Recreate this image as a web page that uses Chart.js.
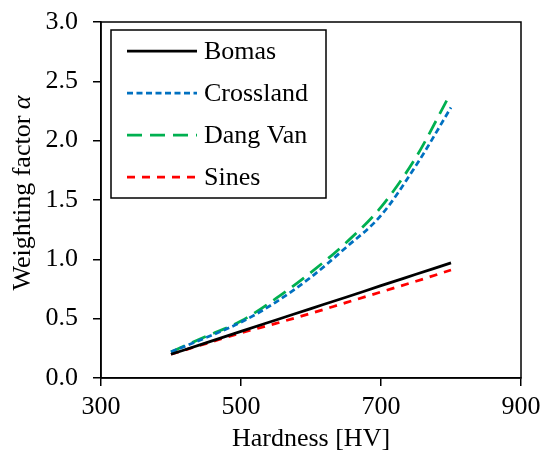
<!DOCTYPE html>
<html>
<head>
<meta charset="utf-8">
<script src="https://cdn.jsdelivr.net/npm/chart.js@4"></script>
<style>
  html, body { margin: 0; padding: 0; background: #fff; }
  #wrap { width: 541px; height: 455px; }
</style>
</head>
<body>
<div id="wrap"><canvas id="chart" width="541" height="455"></canvas></div>
<script>
// ---------- data ----------
const seriesNames = ['Bomas', 'Crossland', 'Dang Van', 'Sines'];

const hardness = [400, 450, 500, 550, 600, 650, 700, 750, 800];
const hardnessDangVan = [400, 450, 500, 550, 600, 650, 700, 750, 795];

const bomas     = [0.20, 0.296, 0.393, 0.489, 0.585, 0.681, 0.778, 0.874, 0.97];
const crossland = [0.22, 0.34, 0.47, 0.64, 0.85, 1.10, 1.37, 1.79, 2.28];
const dangVan   = [0.22, 0.35, 0.48, 0.67, 0.89, 1.14, 1.44, 1.86, 2.35];
const sines     = [0.20, 0.29, 0.38, 0.46, 0.545, 0.635, 0.725, 0.815, 0.91];

const xTicks = [300, 500, 700, 900];
const yTicks = [0, 0.5, 1.0, 1.5, 2.0, 2.5, 3.0];

const FONT = "'Liberation Serif', 'Times New Roman', serif";
const FS = 26;

function pts(xs, ys) {
  return xs.map((x, i) => ({ x: x, y: ys[i] }));
}

// ---------- plugins ----------
const frameAndLegend = {
  id: 'frameAndLegend',
  afterDraw(chart) {
    const ctx = chart.ctx;
    const a = chart.chartArea;
    ctx.save();
    // box round the plot
    ctx.strokeStyle = '#000';
    ctx.lineWidth = 1.5;
    ctx.strokeRect(a.left, a.top, a.right - a.left, a.bottom - a.top);

    // legend box inside the plot
    const lx = a.left + 10, ly = a.top + 8, lw = 215, lh = 168;
    ctx.fillStyle = '#fff';
    ctx.fillRect(lx, ly, lw, lh);
    ctx.strokeRect(lx, ly, lw, lh);
    ctx.font = FS + 'px ' + FONT;
    ctx.textBaseline = 'middle';
    chart.data.datasets.forEach((ds, i) => {
      const y = ly + 21 + i * 42;
      ctx.beginPath();
      ctx.strokeStyle = ds.borderColor;
      ctx.lineWidth = ds.borderWidth;
      ctx.setLineDash(ds.borderDash || []);
      ctx.moveTo(lx + 16, y);
      ctx.lineTo(lx + 86, y);
      ctx.stroke();
      ctx.setLineDash([]);
      ctx.fillStyle = '#000';
      ctx.fillText(ds.label, lx + 93, y + 1);
    });

    // y axis title with italic alpha
    const t1 = 'Weighting factor ';
    const t2 = 'α';
    ctx.font = FS + 'px ' + FONT;
    const w1 = ctx.measureText(t1).width;
    ctx.font = 'italic ' + FS + 'px ' + FONT;
    const w2 = ctx.measureText(t2).width;
    ctx.translate(23, 193);
    ctx.rotate(-Math.PI / 2);
    ctx.textBaseline = 'middle';
    ctx.textAlign = 'left';
    ctx.fillStyle = '#000';
    ctx.font = FS + 'px ' + FONT;
    ctx.fillText(t1, -(w1 + w2) / 2, 0);
    ctx.font = 'italic ' + FS + 'px ' + FONT;
    ctx.fillText(t2, -(w1 + w2) / 2 + w1, 0);
    ctx.restore();
  }
};

const whiteBg = {
  id: 'whiteBg',
  beforeDraw(chart) {
    const ctx = chart.ctx;
    ctx.save();
    ctx.fillStyle = '#fff';
    ctx.fillRect(0, 0, chart.width, chart.height);
    ctx.restore();
  }
};

// ---------- chart ----------
new Chart(document.getElementById('chart'), {
  type: 'line',
  data: {
    datasets: [
      { label: seriesNames[0], data: pts(hardness, bomas), borderColor: '#000000', borderWidth: 2.75, borderDash: [] },
      { label: seriesNames[1], data: pts(hardness, crossland), borderColor: '#0070C0', borderWidth: 2.75, borderDash: [6, 3.5] },
      { label: seriesNames[2], data: pts(hardnessDangVan, dangVan), borderColor: '#00B050', borderWidth: 2.75, borderDash: [15, 8] },
      { label: seriesNames[3], data: pts(hardness, sines), borderColor: '#FF0000', borderWidth: 2.75, borderDash: [8, 7] }
    ].map(d => Object.assign(d, { pointRadius: 0, fill: false, cubicInterpolationMode: 'monotone' }))
  },
  options: {
    responsive: false,
    animation: false,
    layout: { padding: { top: 22, right: 20, left: 0, bottom: 0 } },
    plugins: { legend: { display: false }, tooltip: { enabled: false } },
    scales: {
      x: {
        type: 'linear',
        min: 300, max: 900,
        afterBuildTicks: s => { s.ticks = xTicks.map(v => ({ value: v })); },
        afterFit: s => { s.height = 77; s.paddingLeft = 0; s.paddingRight = 0; },
        grid: { drawOnChartArea: false, drawTicks: true, tickLength: 8, color: '#000', lineWidth: 1.5 },
        border: { color: '#000', width: 1.5 },
        ticks: { color: '#000', font: { family: FONT, size: FS }, padding: 6, maxRotation: 0 },
        title: { display: true, text: 'Hardness [HV]', color: '#000', font: { family: FONT, size: FS }, padding: { top: 0, bottom: 0 } }
      },
      y: {
        min: 0, max: 3,
        afterBuildTicks: s => { s.ticks = yTicks.map(v => ({ value: v })); },
        afterFit: s => { s.width = 101; s.paddingTop = 0; s.paddingBottom = 0; },
        grid: { drawOnChartArea: false, drawTicks: true, tickLength: 8, color: '#000', lineWidth: 1.5 },
        border: { color: '#000', width: 1.5 },
        ticks: { color: '#000', font: { family: FONT, size: FS }, padding: 15, callback: v => v.toFixed(1) }
      }
    }
  },
  plugins: [whiteBg, frameAndLegend]
});
</script>
</body>
</html>
